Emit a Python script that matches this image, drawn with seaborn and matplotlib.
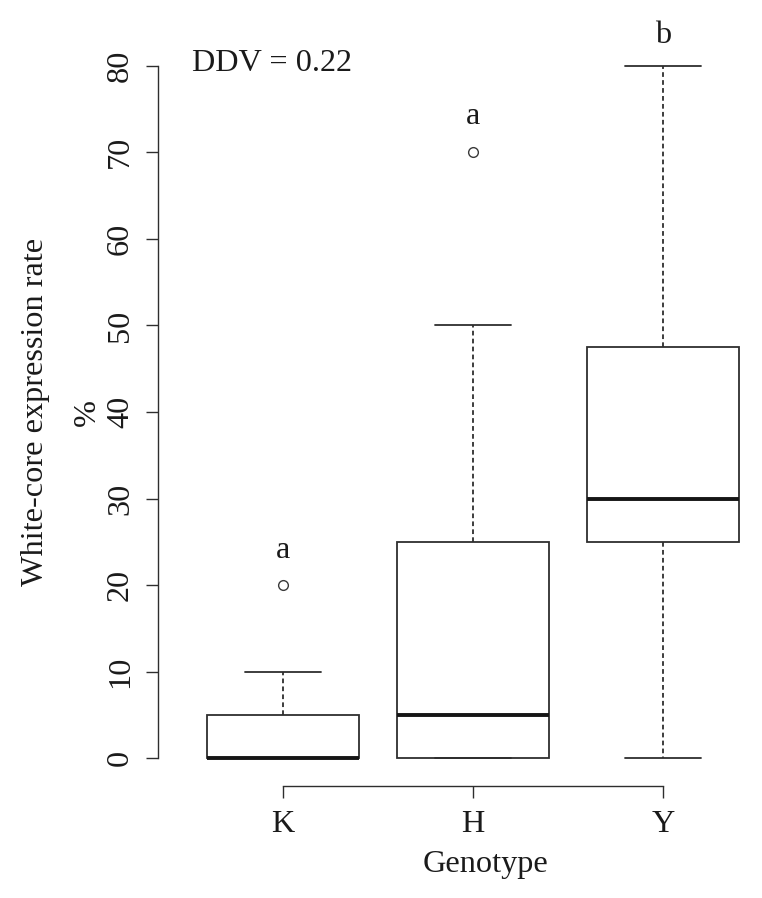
import pandas as pd
import matplotlib.pyplot as plt
import seaborn as sns

# data
genotypes = ['K', 'H', 'Y']
k_rate = [0, 0, 0, 0, 0, 0, 0, 5, 5, 10, 20]
h_rate = [0, 0, 0, 0, 5, 5, 10, 25, 25, 50, 70]
y_rate = [0, 20, 25, 25, 30, 40, 47.5, 60, 80]
letters = ['a', 'a', 'b']
letter_y = [23.1, 73.3, 82.6]
yticks = [0, 10, 20, 30, 40, 50, 60, 70, 80]
ddv_label = 'DDV = 0.22'

df = pd.DataFrame({
    'Genotype': ['K'] * len(k_rate) + ['H'] * len(h_rate) + ['Y'] * len(y_rate),
    'rate': k_rate + h_rate + y_rate,
})

sns.set_theme(style='ticks')
plt.rcParams['font.family'] = ['Liberation Serif', 'DejaVu Serif']
fs = 23.2
line_col = '#2e2e2e'

fig = plt.figure(figsize=(7.62, 8.98), dpi=100)
ax = fig.add_axes([158 / 762, 112 / 898, 604 / 762, 748 / 898])

sns.boxplot(data=df, x='Genotype', y='rate', order=genotypes, ax=ax,
            width=0.8, color='white', linecolor=line_col, linewidth=1.3,
            whis=1.5, fliersize=7,
            whiskerprops=dict(linestyle=(0, (2.6, 1.8))),
            medianprops=dict(linewidth=2.8, color='#151515'),
            flierprops=dict(marker='o', markerfacecolor='none',
                            markeredgecolor='#3a3a3a', markeredgewidth=1.0,
                            markersize=7))

ax.set_xlim(-0.658, 2.521)
ax.set_ylim(-3.2, 83.2)
ax.set_yticks(yticks)
ax.set_yticklabels([str(v) for v in yticks])

ax.tick_params(axis='both', length=8.8, width=1.0, color=line_col,
               labelsize=fs, labelcolor='#1a1a1a')
ax.tick_params(axis='x', pad=8.2)
ax.tick_params(axis='y', pad=7.8)
for lab in ax.get_yticklabels():
    lab.set_rotation(90)
    lab.set_va('center')

for sp in ax.spines.values():
    sp.set_color(line_col)
    sp.set_linewidth(1.0)
sns.despine(ax=ax, trim=True)

# axis titles
ax.set_xlabel('Genotype', fontsize=fs, color='#1a1a1a', va='baseline')
ax.xaxis.set_label_coords((486 - 158) / 604, (786 - 872) / 748)
ax.set_ylabel('White-core expression rate', fontsize=fs, color='#1a1a1a',
              rotation=90, rotation_mode='anchor', ha='center', va='baseline')
ax.yaxis.set_label_coords((43 - 158) / 604, 0.5)
ax.text((95 - 158) / 604, 0.5, '%', transform=ax.transAxes, fontsize=fs,
        color='#1a1a1a', rotation=90, rotation_mode='anchor',
        ha='center', va='baseline')

# significance letters and DDV note
for i, (lt, ly) in enumerate(zip(letters, letter_y)):
    ax.text(i, ly, lt, fontsize=fs, color='#1a1a1a', ha='center', va='baseline')
ax.text(-0.479, 79.4, ddv_label, fontsize=fs, color='#1a1a1a',
        ha='left', va='baseline')

fig.savefig('out.png', dpi=100, facecolor='white')
